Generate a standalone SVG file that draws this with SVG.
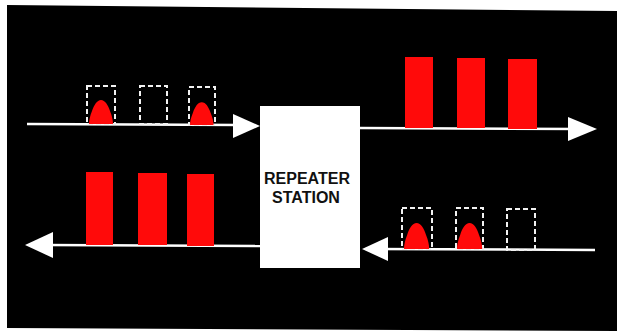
<svg xmlns="http://www.w3.org/2000/svg" width="617" height="331" viewBox="0 0 617 331">
<defs>
<style>
.line{stroke:#fff;stroke-width:2.5;fill:none}
.head{fill:#fff}
.slot{fill:none;stroke:#f2f2f2;stroke-width:2;stroke-dasharray:5 3}
.pulse{fill:#ff0a0a}
.bar{fill:#ff0a0a}
.lbl{font-family:"Liberation Sans",Arial,sans-serif;font-weight:bold;font-size:16px;fill:#111;text-anchor:middle}
</style>
<path id="bumpUp" d="M0,0 C0,-4 1,-8 3,-13 C5,-19 8,-24 12,-24 C16,-24 19,-19 21,-13 C23,-8 24,-4 24,0 Z"/>
</defs>
<rect width="617" height="331" fill="#fff"/>
<polygon points="7,5 617,11 617,331 7,328" fill="#000"/>

<g id="connectors">
<line class="line" x1="27" y1="124" x2="240" y2="125"/>
<polygon class="head" points="233,114 260,126 233,138"/>
<line class="line" x1="360" y1="128" x2="580" y2="129"/>
<polygon class="head" points="568,117 597,129 568,141"/>
<line class="line" x1="45" y1="245" x2="260" y2="246"/>
<polygon class="head" points="53,232 25,245 53,258"/>
<line class="line" x1="375" y1="249" x2="595" y2="250"/>
<polygon class="head" points="388,237 362,249 388,261"/>
</g>

<g id="input-top">
<rect class="slot" x="87" y="86" width="28" height="38"/>
<rect class="slot" x="140" y="86" width="27" height="38"/>
<rect class="slot" x="189" y="87" width="26" height="38"/>
<use href="#bumpUp" class="pulse" transform="translate(89,124)"/>
<use href="#bumpUp" class="pulse" transform="translate(190,125) scale(0.98,0.95)"/>
</g>

<g id="output-top">
<rect class="bar" x="405" y="57" width="28" height="71"/>
<rect class="bar" x="457" y="58" width="28" height="70"/>
<rect class="bar" x="508" y="59" width="29" height="70"/>
</g>

<g id="output-bottom">
<rect class="bar" x="86" y="172" width="27" height="73"/>
<rect class="bar" x="138" y="173" width="29" height="72"/>
<rect class="bar" x="187" y="174" width="27" height="72"/>
</g>

<g id="input-bottom">
<rect class="slot" x="402" y="208" width="30" height="41"/>
<rect class="slot" x="456" y="208" width="27" height="41"/>
<rect class="slot" x="507" y="209" width="28" height="41"/>
<use href="#bumpUp" class="pulse" transform="translate(404,249) scale(1.05,1.08)"/>
<use href="#bumpUp" class="pulse" transform="translate(457,249) scale(1.05,1.08)"/>
</g>

<g id="repeater-station">
<rect x="260" y="106" width="100" height="162" fill="#fff"/>
<text class="lbl" x="307" y="184">REPEATER</text>
<text class="lbl" x="306" y="203">STATION</text>
</g>
</svg>
